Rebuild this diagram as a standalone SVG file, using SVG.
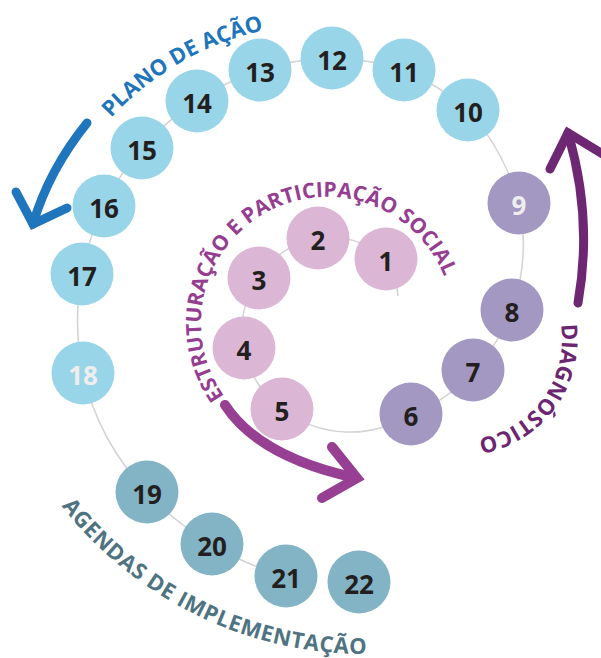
<svg xmlns="http://www.w3.org/2000/svg" width="601" height="658" viewBox="0 0 601 658">
<style>
.n{font-family:"Open Sans","DejaVu Sans",sans-serif;font-weight:700;font-size:26px;text-anchor:middle;fill:#231f20}
.w{fill:#eeeeee}
.blue{fill:#99d5e8}
.pink{fill:#dbb6d5}
.lav{fill:#a398c1}
.teal{fill:#83b4c6}
.lbl{font-family:"Open Sans","DejaVu Sans",sans-serif;font-weight:700}
.arr{fill:none;stroke-linecap:round;stroke-linejoin:miter;stroke-miterlimit:10}
</style>
<defs>
<path id="p1" d="M 71.9 171 A 297 297 0 0 1 330 23"/>
<path id="p2" d="M 230.5 404 A 126 126 0 1 1 448.7 290.4"/>
<path id="p3" d="M 558.6 312.9 A 101 101 0 0 1 452.2 439.6"/>
<path id="p4" d="M 49.6 489.8 A 385 385 0 0 0 398.6 652.5"/>
</defs>
<g id="connectors">
<path d="M 398 296 A 78 78 0 0 0 386 259 A 83 83 0 0 0 318 238 A 83 83 0 0 0 259 278 A 86 86 0 0 0 244 348 A 95 95 0 0 0 282 409 A 112 112 0 0 0 411 414 A 137 137 0 0 0 473 370 A 166 166 0 0 0 512 310 A 200 200 0 0 0 519 203 A 236 236 0 0 0 468 110 A 256 256 0 0 0 404 70 A 261 261 0 0 0 332 58 A 261 261 0 0 0 260 70 A 258 258 0 0 0 197 101 A 255 255 0 0 0 142 148 A 254 254 0 0 0 104 206 A 252 252 0 0 0 82 274 A 252 252 0 0 0 83 373 A 252 252 0 0 0 147 492 A 252 252 0 0 0 212 544 A 256 256 0 0 0 286 576" fill="none" stroke="#d3d3d3" stroke-width="1.5"/>
</g>
<g id="arrows">
<path class="arr" stroke="#1f76bd" stroke-width="9" d="M 87 123 Q 49 170 33 224"/>
<path class="arr" stroke="#1f76bd" stroke-width="9" d="M 16 192 L 33 224 L 67 208"/>
<path class="arr" stroke="#963f93" stroke-width="10" d="M 225 405 Q 259 457 356 478"/>
<path class="arr" stroke="#963f93" stroke-width="10" d="M 332 447 L 357 478 L 322 498"/>
<path class="arr" stroke="#6e2873" stroke-width="9" d="M 578 303 Q 593 218 568 133"/>
<path class="arr" stroke="#6e2873" stroke-width="9" d="M 550 169 L 568 133 L 606 156"/>
</g>
<g id="labels">
<text class="lbl" font-size="22" fill="#1f75bc"><textPath href="#p1" startOffset="66">PLANO DE AÇÃO</textPath></text>
<text class="lbl" font-size="21" letter-spacing="0.1" fill="#953d91"><textPath href="#p2" startOffset="10">ESTRUTURAÇÃO E PARTICIPAÇÃO SOCIAL</textPath></text>
<text class="lbl" font-size="22" letter-spacing="0.2" fill="#6c2571"><textPath href="#p3" startOffset="12">DIAGNÓSTICO</textPath></text>
<text class="lbl" font-size="22" letter-spacing="0.6" fill="#4e7381"><textPath href="#p4" startOffset="20">AGENDAS DE IMPLEMENTAÇÃO</textPath></text>
</g>
<g id="n1"><circle class="pink" cx="386" cy="259" r="31.5"/><text class="n" x="386" y="270.5">1</text></g>
<g id="n2"><circle class="pink" cx="318" cy="238" r="31.5"/><text class="n" x="318" y="249.5">2</text></g>
<g id="n3"><circle class="pink" cx="259" cy="278" r="31.5"/><text class="n" x="259" y="289.5">3</text></g>
<g id="n4"><circle class="pink" cx="244" cy="348" r="31.5"/><text class="n" x="244" y="359.5">4</text></g>
<g id="n5"><circle class="pink" cx="282" cy="409" r="31.5"/><text class="n" x="282" y="420.5">5</text></g>
<g id="n6"><circle class="lav" cx="411" cy="414" r="31.5"/><text class="n" x="411" y="425.5">6</text></g>
<g id="n7"><circle class="lav" cx="473" cy="370" r="31.5"/><text class="n" x="473" y="381.5">7</text></g>
<g id="n8"><circle class="lav" cx="512" cy="310" r="31.5"/><text class="n" x="512" y="321.5">8</text></g>
<g id="n9"><circle class="lav" cx="519" cy="203" r="31.5"/><text class="n w" x="519" y="214.5">9</text></g>
<g id="n10"><circle class="blue" cx="468" cy="110" r="31.5"/><text class="n" x="468" y="121.5">10</text></g>
<g id="n11"><circle class="blue" cx="404" cy="70" r="31.5"/><text class="n" x="404" y="81.5">11</text></g>
<g id="n12"><circle class="blue" cx="332" cy="58" r="31.5"/><text class="n" x="332" y="69.5">12</text></g>
<g id="n13"><circle class="blue" cx="260" cy="70" r="31.5"/><text class="n" x="260" y="81.5">13</text></g>
<g id="n14"><circle class="blue" cx="197" cy="101" r="31.5"/><text class="n" x="197" y="112.5">14</text></g>
<g id="n15"><circle class="blue" cx="142" cy="148" r="31.5"/><text class="n" x="142" y="159.5">15</text></g>
<g id="n16"><circle class="blue" cx="104" cy="206" r="31.5"/><text class="n" x="104" y="217.5">16</text></g>
<g id="n17"><circle class="blue" cx="82" cy="274" r="31.5"/><text class="n" x="82" y="285.5">17</text></g>
<g id="n18"><circle class="blue" cx="83" cy="373" r="31.5"/><text class="n w" x="83" y="384.5">18</text></g>
<g id="n19"><circle class="teal" cx="147" cy="492" r="31.5"/><text class="n" x="147" y="503.5">19</text></g>
<g id="n20"><circle class="teal" cx="212" cy="544" r="31.5"/><text class="n" x="212" y="555.5">20</text></g>
<g id="n21"><circle class="teal" cx="286" cy="576" r="31.5"/><text class="n" x="286" y="587.5">21</text></g>
<g id="n22"><circle class="teal" cx="359" cy="582" r="31.5"/><text class="n" x="359" y="593.5">22</text></g>
</svg>
